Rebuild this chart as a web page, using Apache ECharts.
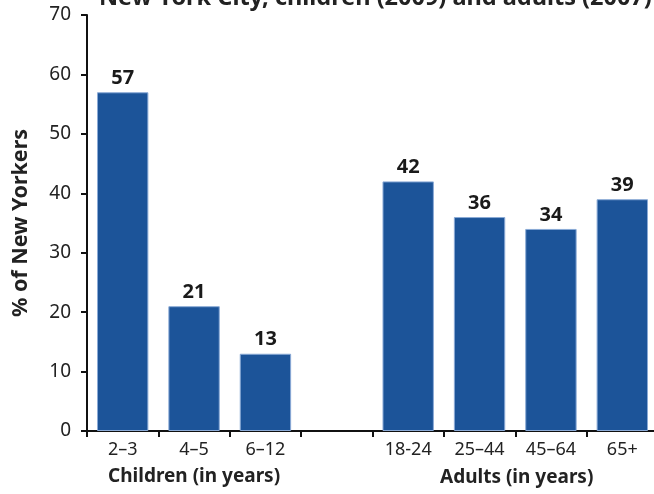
<!DOCTYPE html>
<html>
<head>
<meta charset="utf-8">
<script src="https://cdn.jsdelivr.net/npm/echarts@6/dist/echarts.min.js"></script>
<style>html,body{margin:0;padding:0;background:#fff}#c{width:654px;height:494px}</style>
</head>
<body>
<div id="c"></div>
<script>
const categories = ['2–3', '4–5', '6–12', '', '18-24', '25–44', '45–64', '65+'];
const values = [57, 21, 13, null, 42, 36, 34, 39];
const yTicks = [0, 10, 20, 30, 40, 50, 60, 70];
const titleText = 'New York City, children (2009) and adults (2007)';
const yName = '% of New Yorkers';
const groupLabels = ['Children (in years)', 'Adults (in years)'];

const FONT = '"Noto Sans", "Open Sans", sans-serif';
const chart = echarts.init(document.getElementById('c'), null, {renderer: 'canvas'});
chart.setOption({
  animation: false,
  backgroundColor: '#fff',
  title: {
    text: titleText,
    left: 94, top: -19,
    textStyle: {fontFamily: FONT, fontWeight: 'bold', fontSize: 23.5, color: '#222'}
  },
  grid: {left: 87, width: 571, top: 15, bottom: 63, containLabel: false, outerBoundsMode: 'none'},
  xAxis: {
    type: 'category',
    data: categories,
    axisLine: {lineStyle: {color: '#111', width: 2}},
    axisTick: {show: true, length: 6, lineStyle: {color: '#111', width: 2}, alignWithLabel: false},
    axisLabel: {fontFamily: FONT, fontSize: 18, color: '#222', margin: 10, interval: 0}
  },
  yAxis: {
    type: 'value',
    min: yTicks[0], max: yTicks[yTicks.length - 1], interval: 10,
    name: yName,
    nameLocation: 'middle',
    nameGap: 55,
    nameTextStyle: {fontFamily: FONT, fontWeight: 'bold', fontSize: 21.5, color: '#222'},
    axisLine: {show: true, lineStyle: {color: '#111', width: 2}},
    axisTick: {show: true, length: 6, lineStyle: {color: '#111', width: 2}},
    axisLabel: {fontFamily: FONT, fontSize: 19, color: '#222', margin: 16},
    splitLine: {show: false}
  },
  series: [{
    type: 'bar',
    data: values,
    barCategoryGap: '28%',
    itemStyle: {color: '#1c5499', borderColor: '#8aaad6', borderWidth: 1},
    label: {show: true, position: 'top', distance: 4, fontFamily: FONT, fontWeight: 'bold', fontSize: 20, color: '#1a1a1a'}
  }],
  graphic: [
    {type: 'text', left: 108, top: 467, style: {text: groupLabels[0], font: 'bold 19px ' + FONT, fill: '#222'}},
    {type: 'text', left: 440, top: 468, style: {text: groupLabels[1], font: 'bold 19px ' + FONT, fill: '#222'}}
  ]
});
</script>
</body>
</html>
